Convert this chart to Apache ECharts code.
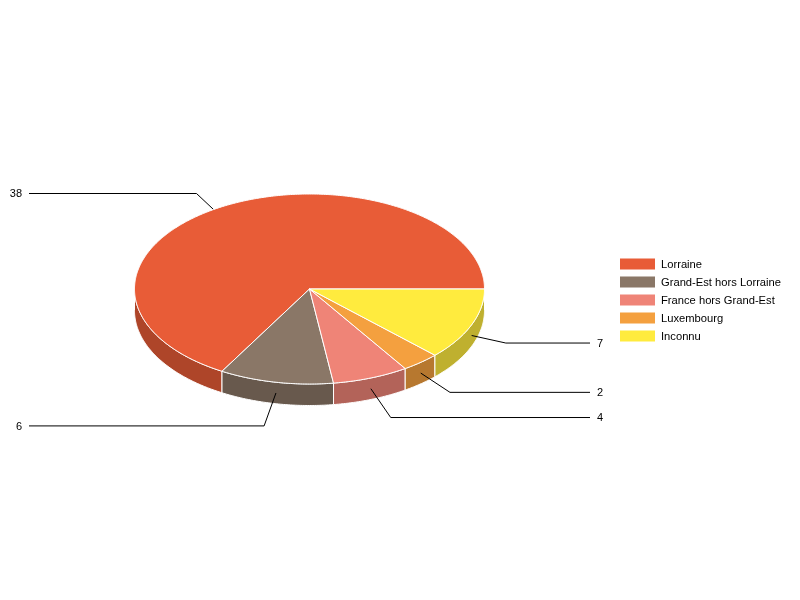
<!DOCTYPE html>
<html>
<head>
<meta charset="utf-8">
<style>html,body{margin:0;padding:0;background:#fff}#c{width:800px;height:600px}</style>
<script src="https://cdn.jsdelivr.net/npm/echarts@6/dist/echarts.min.js"></script>
</head>
<body>
<div id="c"></div>
<script>
const categories = ['Lorraine', 'Grand-Est hors Lorraine', 'France hors Grand-Est', 'Luxembourg', 'Inconnu'];
const values = [38, 6, 4, 2, 7];
const colors = ['#E85C37', '#8A7767', '#EF8477', '#F4A03F', '#FFEB3E'];

const total = values.reduce((a, b) => a + b, 0);
const CX = 309.5, CY = 289, RX = 175, RY = 95, DEPTH = 21.5;
const LEADER = 35, LEFT_END = 29, RIGHT_END = 590, LABEL_GAP = 7;
const TAU = Math.PI * 2;

function shade(hex, f) {
  const n = parseInt(hex.slice(1), 16);
  const c = s => Math.round(((n >> s) & 255) * f);
  return `rgb(${c(16)},${c(8)},${c(0)})`;
}
function pt(a, dy) {
  return [CX + RX * Math.cos(a), CY + RY * Math.sin(a) + (dy || 0)];
}
function arc(a1, a2, dy) {
  const out = [], n = Math.max(2, Math.ceil(Math.abs(a2 - a1) / 0.01));
  for (let i = 0; i <= n; i++) out.push(pt(a1 + (a2 - a1) * i / n, dy));
  return out;
}
// Slices run counter-clockwise from 3 o'clock, in legend order.
function sliceAngles(idx) {
  let before = 0;
  for (let i = 0; i < idx; i++) before += values[i];
  const start = TAU - before / total * TAU;
  return [start - values[idx] / total * TAU, start];
}
function renderSlice(idx, api) {
  const value = api.value(0);
  const [a1, a2] = sliceAngles(idx);
  const color = colors[idx];
  const children = [];

  // Side wall: only the part of the rim facing the viewer (0..PI on screen).
  const s1 = Math.max(a1, 0), s2 = Math.min(a2, Math.PI);
  if (s2 > s1) {
    children.push({
      type: 'polygon', z2: 1,
      shape: { points: arc(s1, s2, 0).concat(arc(s2, s1, DEPTH)) },
      style: { fill: shade(color, 0.75), stroke: '#fff', lineWidth: 1 }
    });
  }
  // Top face.
  children.push({
    type: 'polygon', z2: 2,
    shape: { points: [[CX, CY]].concat(arc(a1, a2, 0)) },
    style: { fill: color, stroke: '#fff', lineWidth: 1, lineJoin: 'round' }
  });

  // Leader line and value label.
  const mid = (a1 + a2) / 2;
  const front = Math.sin(mid) > 0;
  const anchor = pt(mid, DEPTH / 2);
  const dir = Math.atan2(RY * Math.sin(mid), RX * Math.cos(mid));
  const elbow = [anchor[0] + LEADER * Math.cos(dir), anchor[1] + LEADER * Math.sin(dir)];
  const right = Math.cos(mid) > 0;
  const endX = right ? RIGHT_END : LEFT_END;
  children.push({
    type: 'polyline', z2: front ? 3 : 0,
    shape: { points: [anchor, elbow, [endX, elbow[1]]] },
    style: { fill: null, stroke: '#000', lineWidth: 1 }
  });
  children.push({
    type: 'text', z2: 4,
    style: {
      text: String(value),
      x: right ? endX + LABEL_GAP : endX - LABEL_GAP,
      y: Math.floor(elbow[1] + 0.2) + 1,
      align: right ? 'left' : 'right',
      verticalAlign: 'middle',
      fill: '#000',
      font: '11px "Liberation Sans", Arial, sans-serif'
    }
  });
  return { type: 'group', children };
}

const chart = echarts.init(document.getElementById('c'), null, { renderer: 'canvas' });
chart.setOption({
  animation: false,
  backgroundColor: '#fff',
  tooltip: { show: false },
  color: colors,
  legend: {
    orient: 'vertical',
    left: 620, top: 257.5,
    padding: 0,
    itemWidth: 35, itemHeight: 11, itemGap: 5,
    icon: 'rect',
    selectedMode: false,
    data: categories,
    formatter: name => `{t|${name}}`,
    textStyle: {
      rich: {
        t: { color: '#000', fontSize: 11.2, lineHeight: 11, padding: [2, 0, 0, 1], fontFamily: '"Liberation Sans", Arial, sans-serif' }
      }
    }
  },
  series: categories.map((name, idx) => ({
    type: 'custom',
    name,
    coordinateSystem: 'none',
    silent: true,
    itemStyle: { color: colors[idx] },
    data: [[values[idx]]],
    renderItem: (params, api) => renderSlice(idx, api)
  }))
});
</script>
</body>
</html>
